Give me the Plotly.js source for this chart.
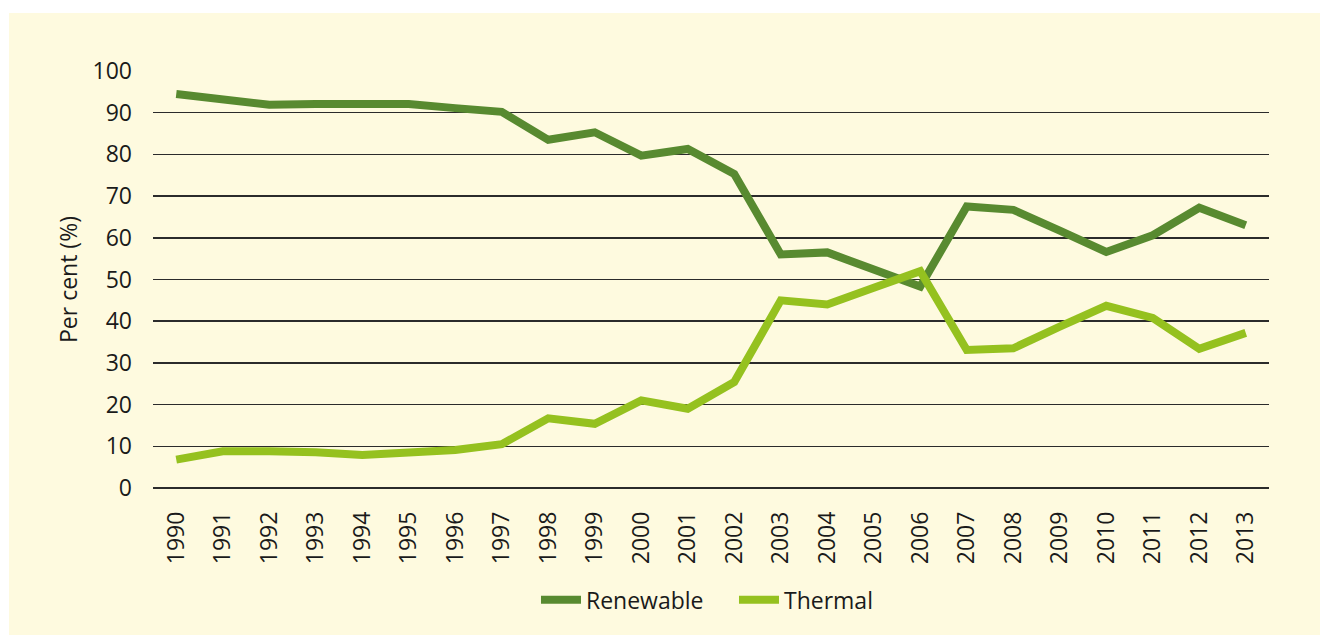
<!DOCTYPE html>
<html>
<head>
<meta charset="utf-8">
<script src="https://cdn.plot.ly/plotly-3.0.1.min.js"></script>
<style>
  html, body { margin: 0; padding: 0; background: #ffffff; }
  #chart { position: absolute; left: 9px; top: 13px; width: 1311px; height: 622px; }
</style>
</head>
<body>
<div id="chart"></div>
<script>
const years = ["1990","1991","1992","1993","1994","1995","1996","1997","1998","1999","2000","2001","2002","2003","2004","2005","2006","2007","2008","2009","2010","2011","2012","2013"];
const renewable = [94.5, 93.0, 91.9, 92.1, 92.1, 92.1, 91.1, 90.2, 83.5, 85.3, 79.7, 81.3, 75.3, 56.0, 56.5, 52.4, 48.3, 67.5, 66.7, 61.7, 56.6, 60.6, 67.2, 63.0];
const thermal = [6.8, 8.8, 8.8, 8.6, 7.9, 8.6, 9.1, 10.5, 16.7, 15.4, 21.0, 19.0, 25.4, 45.0, 44.0, 48.0, 52.0, 33.1, 33.5, 38.7, 43.7, 40.8, 33.4, 37.2];
const yTicks = [0, 10, 20, 30, 40, 50, 60, 70, 80, 90, 100];

const fam = "'Open Sans', sans-serif";
const txt = { family: fam, size: 23, color: "#1a1a1a" };

const traces = [
  { x: years, y: renewable, name: "Renewable", type: "scatter", mode: "lines",
    line: { color: "#588A30", width: 8 } },
  { x: years, y: thermal, name: "Thermal", type: "scatter", mode: "lines",
    line: { color: "#95C11F", width: 8 } }
];

const layout = {
  width: 1311, height: 622,
  paper_bgcolor: "#FEFADF", plot_bgcolor: "#FEFADF",
  margin: { l: 144, r: 51, t: 58, b: 147 },
  font: txt,
  showlegend: true,
  legend: { orientation: "h", x: 0.5206, xanchor: "center", y: -0.268, yanchor: "middle",
            font: txt, bgcolor: "rgba(0,0,0,0)", itemwidth: 40,
            entrywidth: 143, entrywidthmode: "pixels" },
  xaxis: {
    type: "category", range: [-0.5, 23.5],
    tickangle: -90, showgrid: false, zeroline: false, showline: false,
    ticks: "", ticklabelstandoff: 18,
    tickfont: txt,
    fixedrange: true
  },
  yaxis: {
    range: [0, 100], tickvals: yTicks, ticktext: yTicks.map(String),
    showgrid: true, gridcolor: "#2b2b2b", gridwidth: 1.5,
    zeroline: true, zerolinecolor: "#2b2b2b", zerolinewidth: 1.5,
    showline: false, ticks: "", ticklabelstandoff: 20,
    tickfont: txt,
    title: { text: "Per cent (%)", font: txt, standoff: 8 },
    fixedrange: true
  }
};

Plotly.newPlot("chart", traces, layout, { displayModeBar: false, staticPlot: true });
</script>
</body>
</html>
